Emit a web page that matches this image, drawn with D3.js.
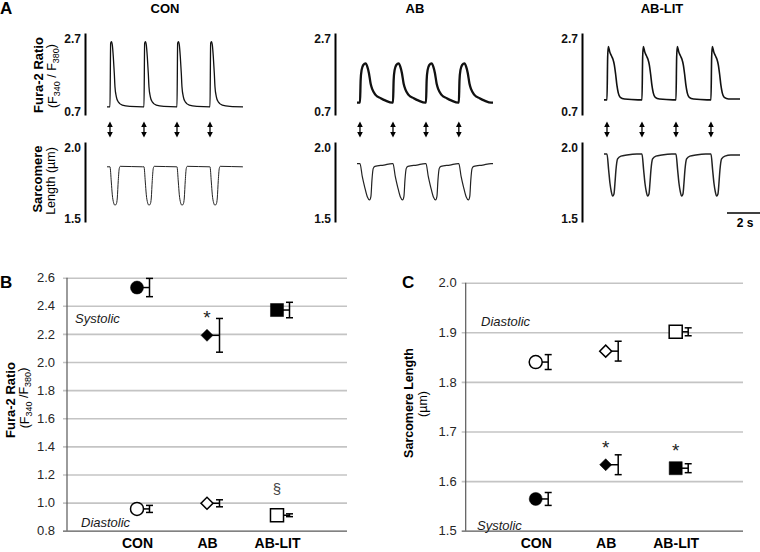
<!DOCTYPE html>
<html><head><meta charset="utf-8">
<script src="https://cdn.jsdelivr.net/npm/d3@7"></script>
<style>
body{margin:0;background:#fff;}
svg{display:block;font-family:"Liberation Sans",Arial,Helvetica,sans-serif;}
</style></head><body>
<svg id="chart" width="760" height="552"></svg>
<script>
// ================= DATA =================
const groups = ["CON", "AB", "AB-LIT"];

// Panel A – representative traces. Beat onset times (s) and one-beat shape [s after onset, value]
const conBeatTimes   = [0.18, 2.23, 4.22, 6.21];
const abBeatTimes    = [0.18, 2.17, 4.16, 6.14];
const abLitBeatTimes = [0.18, 2.29, 4.34, 6.45];
const traceEnd = 8.2;

const conFuraBeat   = [[0,0.90],[0.04,2.45],[0.09,2.49],[0.14,2.41],[0.20,2.12],[0.26,1.72],[0.30,1.39],[0.38,1.15],[0.50,1.02],[0.74,0.94],[1.20,0.91],[1.99,0.90]];
const abFuraBeat    = [[0,1.00],[0.04,1.55],[0.10,1.80],[0.20,1.92],[0.34,1.96],[0.44,1.88],[0.54,1.72],[0.64,1.47],[0.74,1.33],[0.94,1.19],[1.25,1.11],[1.55,1.05],[1.95,1.00]];
const abLitFuraBeat = [[0,1.07],[0.04,2.10],[0.08,2.37],[0.16,2.25],[0.26,2.15],[0.36,2.06],[0.44,1.93],[0.52,1.70],[0.60,1.42],[0.68,1.24],[0.80,1.13],[1.06,1.09],[1.87,1.07]];

const conSlBeat   = [[0,1.845],[0.08,1.75],[0.14,1.67],[0.22,1.62],[0.30,1.605],[0.38,1.612],[0.44,1.65],[0.50,1.76],[0.56,1.835],[0.62,1.848],[1.95,1.845]];
const abSlBeat    = [[0,1.865],[0.14,1.783],[0.28,1.72],[0.44,1.658],[0.58,1.638],[0.66,1.66],[0.72,1.76],[0.80,1.835],[0.90,1.848],[1.44,1.856],[1.95,1.865]];
const abLitSlBeat = [[0,1.925],[0.10,1.825],[0.18,1.742],[0.26,1.69],[0.34,1.662],[0.42,1.675],[0.48,1.742],[0.54,1.825],[0.64,1.895],[0.84,1.912],[1.20,1.919],[1.80,1.925]];

const furaTraceTicks = [0.7, 2.7];
const slTraceTicks = [1.5, 2.0];

// Panel B – Fura-2 ratio (mean, SEM)
const furaSysMean = [2.53, 2.19, 2.37];
const furaSysErr  = [0.065, 0.12, 0.055];
const furaDiaMean = [0.955, 0.995, 0.91];
const furaDiaErr  = [0.025, 0.025, 0.01];
const furaTicks   = [0.8, 1.0, 1.2, 1.4, 1.6, 1.8, 2.0, 2.2, 2.4, 2.6];

// Panel C – sarcomere length (µm)
const slDiaMean = [1.840, 1.862, 1.901];
const slDiaErr  = [0.015, 0.02, 0.008];
const slSysMean = [1.564, 1.633, 1.626];
const slSysErr  = [0.013, 0.02, 0.009];
const slTicks   = [1.5, 1.6, 1.7, 1.8, 1.9, 2.0];

// Significance marks
const furaSysMarks = ["", "*", ""];
const furaDiaMarks = ["", "", "§"];
const slSysMarks   = ["", "*", "*"];

// ================= DRAWING =================
const svg = d3.select("#chart");
svg.append("rect").attr("width",760).attr("height",552).attr("fill","#fff");

function panelLetter(t, x, y){
  svg.append("text").attr("x",x).attr("y",y).attr("font-size",17).attr("font-weight","bold").text(t);
}
function subLabel(g, parts){ // parts: [text, isSub]
  parts.forEach(([t, sub], i) => {
    const ts = g.append("tspan").text(t);
    if (sub) ts.attr("font-size","0.72em").attr("dy", "0.28em");
    else if (i > 0 && parts[i-1][1]) ts.attr("dy", "-0.28em");
  });
}
function rotText(x, y, size, weight){
  return svg.append("text").attr("transform",`translate(${x},${y}) rotate(-90)`)
    .attr("text-anchor","middle").attr("font-size",size).attr("font-weight",weight);
}

// ---------- Panel A ----------
panelLetter("A", 0, 14);
const colOffsets = [0, 250, 497];
const beatTimes = [conBeatTimes, abBeatTimes, abLitBeatTimes];
const furaBeats = [conFuraBeat, abFuraBeat, abLitFuraBeat];
const slBeats = [conSlBeat, abSlBeat, abLitSlBeat];
const furaWidths = [1.3, 2.3, 1.6];
const slWidths = [1.0, 1.2, 1.5];

function buildTrace(beats, shape, tEnd){
  const pts = [[0, shape[0][1]]];
  beats.forEach(b => shape.forEach(([dt, v]) => { if (b + dt <= tEnd) pts.push([b + dt, v]); }));
  const last = pts[pts.length-1];
  if (last[0] < tEnd) pts.push([tEnd, last[1]]);
  return pts;
}

const yF = d3.scaleLinear().domain([0.7, 2.7]).range([115, 33]);
const yS = d3.scaleLinear().domain([1.5, 2.0]).range([222, 142]);

groups.forEach((name, i) => {
  const off = colOffsets[i];
  const xT = d3.scaleLinear().domain([0, traceEnd]).range([107 + off, 243 + off]);
  const g = svg.append("g");

  // title
  g.append("text").attr("x", xT(traceEnd/2) - 10).attr("y", 13).attr("text-anchor","middle")
    .attr("font-size",13).attr("font-weight","bold").text(name);

  // vertical scale bars with tick labels
  [[yF, furaTraceTicks],[yS, slTraceTicks]].forEach(([ys, ticks]) => {
    const ax = g.append("g").attr("transform",`translate(${85+off},0)`)
      .call(d3.axisLeft(ys).tickValues(ticks).tickSize(0).tickPadding(4).tickFormat(d3.format(".1f")));
    ax.select(".domain").attr("stroke","#000").attr("stroke-width",2);
    ax.selectAll("text").attr("font-size",12).attr("font-weight","bold").attr("font-family",null)
      .attr("fill","#111")
      .attr("dy", d => d === ticks[1] ? "0.78em" : "0em");
  });

  // traces
  const lineF = d3.line().x(d => xT(d[0])).y(d => yF(d[1])).curve(d3.curveMonotoneX);
  const lineS = d3.line().x(d => xT(d[0])).y(d => yS(d[1])).curve(d3.curveMonotoneX);
  g.append("path").attr("d", lineF(buildTrace(beatTimes[i], furaBeats[i], traceEnd)))
    .attr("fill","none").attr("stroke","#111").attr("stroke-width",furaWidths[i]).attr("stroke-linejoin","round");
  g.append("path").attr("d", lineS(buildTrace(beatTimes[i], slBeats[i], traceEnd)))
    .attr("fill","none").attr("stroke","#222").attr("stroke-width",slWidths[i]).attr("stroke-linejoin","round");

  // stimulation arrows
  beatTimes[i].forEach(b => {
    const x = xT(b);
    g.append("line").attr("x1",x).attr("x2",x).attr("y1",125).attr("y2",134).attr("stroke","#000").attr("stroke-width",1.3);
    g.append("path").attr("d",`M${x},121.5 L${x-2.8},127 L${x+2.8},127 Z`).attr("fill","#000");
    g.append("path").attr("d",`M${x},137.5 L${x-2.8},132 L${x+2.8},132 Z`).attr("fill","#000");
  });
});

// panel A axis titles
{
  const t1 = rotText(43, 75, 13, "bold"); t1.text("Fura-2 Ratio");
  const t2 = rotText(57, 76, 12.5, "normal");
  subLabel(t2, [["(F",false],["340",true],[" / F",false],["380",true],[")",false]]);
  const t3 = rotText(42, 179, 13, "bold"); t3.text("Sarcomere");
  const t4 = rotText(55, 181, 12.5, "normal"); t4.text("Length (\u00b5m)");
}
// time scale bar
{
  const xT = d3.scaleLinear().domain([0, traceEnd]).range([107 + 497, 243 + 497]);
  svg.append("line").attr("x1", 727).attr("x2", 727 + (xT(2) - xT(0))).attr("y1",213).attr("y2",213)
    .attr("stroke","#000").attr("stroke-width",1.5);
  svg.append("text").attr("x",745).attr("y",227).attr("text-anchor","middle").attr("font-size",12)
    .attr("font-weight","bold").text("2 s");
}

// ---------- Panels B & C ----------
const symbols = [d3.symbolCircle, d3.symbolSquare, d3.symbolSquare];
const symSizes = [133, 72, 170];
const symRot = [0, 45, 0];

function scatterPanel(cfg){
  const { x0, x1, gridEnd, yTop, yBot, dom, ticks, tickPad } = cfg;
  const x = d3.scaleLinear().domain([0, 4]).range([x0, x1]);
  const y = d3.scaleLinear().domain(dom).range([yBot, yTop]);
  const g = svg.append("g");

  // gridlines (extend slightly left of the axis as tick marks)
  g.append("g").attr("transform",`translate(${x0-4},0)`)
    .call(d3.axisLeft(y).tickValues(ticks).tickSize(-(gridEnd - x0 + 4)).tickFormat(""))
    .call(a => a.select(".domain").remove())
    .call(a => a.selectAll("line").attr("stroke", d => d === dom[0] ? "#595959" : "#c4c4c4")
      .attr("stroke-width", d => d === dom[0] ? 1.2 : 1.6));
  // tick labels
  g.append("g").attr("transform",`translate(${x0},0)`)
    .call(d3.axisLeft(y).tickValues(ticks).tickSize(0).tickPadding(tickPad).tickFormat(d3.format(".1f")))
    .call(a => a.select(".domain").remove())
    .call(a => a.selectAll("text").attr("font-size",13).attr("fill","#262626").attr("font-family",null));
  // y axis line
  g.append("line").attr("x1",x0).attr("x2",x0).attr("y1",y(dom[1])).attr("y2",y(dom[0]))
    .attr("stroke","#595959").attr("stroke-width",1.2);
  // category labels
  g.append("g").attr("transform",`translate(0,${yBot})`)
    .call(d3.axisBottom(x).tickValues([1,2,3]).tickSize(0).tickPadding(7).tickFormat(d => groups[d-1]))
    .call(a => a.select(".domain").remove())
    .call(a => a.selectAll("text").attr("font-size",14).attr("font-weight","bold").attr("fill","#000")
      .attr("font-family",null));

  cfg.series.forEach(s => {
    groups.forEach((name, i) => {
      const cx = x(i + 1), cy = y(s.mean[i]);
      const ex = cx + 12.5;
      const lo = y(s.mean[i] - s.err[i]), hi = y(s.mean[i] + s.err[i]);
      g.append("line").attr("x1",cx).attr("x2",ex).attr("y1",cy).attr("y2",cy).attr("stroke","#000").attr("stroke-width",1.5);
      g.append("line").attr("x1",ex).attr("x2",ex).attr("y1",lo).attr("y2",hi).attr("stroke","#000").attr("stroke-width",1.5);
      [lo, hi].forEach(yy => g.append("line").attr("x1",ex-3.5).attr("x2",ex+3.5).attr("y1",yy).attr("y2",yy)
        .attr("stroke","#000").attr("stroke-width",1.5));
      g.append("path").attr("d", d3.symbol(symbols[i], symSizes[i])())
        .attr("transform",`translate(${cx},${cy}) rotate(${symRot[i]})`)
        .attr("fill", s.filled ? "#000" : "#fff").attr("stroke","#000").attr("stroke-width", s.filled ? 0.5 : 1.5);
      const m = s.marks ? s.marks[i] : "";
      if (m === "*") g.append("text").attr("x",cx).attr("y",cy - 11).attr("text-anchor","middle")
        .attr("font-size",19).attr("fill","#222").text("*");
      if (m === "§") g.append("text").attr("x",cx).attr("y",cy - 21).attr("text-anchor","middle")
        .attr("font-size",15).attr("fill","#444").text("§");
    });
  });
  cfg.phaseLabels.forEach(p => g.append("text").attr("x",p.x).attr("y",p.y).attr("font-size",13)
    .attr("font-style","italic").attr("fill","#1a1a1a").text(p.t));
}

panelLetter("B", 0, 288);
scatterPanel({
  x0: 67, x1: 347, gridEnd: 347, yTop: 277.7, yBot: 530.7, dom: [0.8, 2.6], ticks: furaTicks, tickPad: 12,
  series: [
    { mean: furaSysMean, err: furaSysErr, filled: true, marks: furaSysMarks },
    { mean: furaDiaMean, err: furaDiaErr, filled: false, marks: furaDiaMarks }
  ],
  phaseLabels: [{ t: "Systolic", x: 75, y: 323 }, { t: "Diastolic", x: 81, y: 527 }]
});
{
  const t1 = rotText(15, 400, 13, "bold"); t1.text("Fura-2 Ratio");
  const t2 = rotText(29, 398, 12.5, "normal");
  subLabel(t2, [["(F",false],["340",true],[" /F",false],["380",true],[")",false]]);
}

panelLetter("C", 402, 288);
scatterPanel({
  x0: 465.7, x1: 745.7, gridEnd: 743, yTop: 282.7, yBot: 530.7, dom: [1.5, 2.0], ticks: slTicks, tickPad: 9,
  series: [
    { mean: slDiaMean, err: slDiaErr, filled: false, marks: null },
    { mean: slSysMean, err: slSysErr, filled: true, marks: slSysMarks }
  ],
  phaseLabels: [{ t: "Diastolic", x: 481, y: 326 }, { t: "Systolic", x: 477, y: 530 }]
});
{
  const t1 = rotText(413, 403, 12.5, "bold"); t1.text("Sarcomere Length");
  const t2 = rotText(427, 404, 12.5, "normal"); t2.text("(\u00b5m)");
}
</script>
</body></html>
